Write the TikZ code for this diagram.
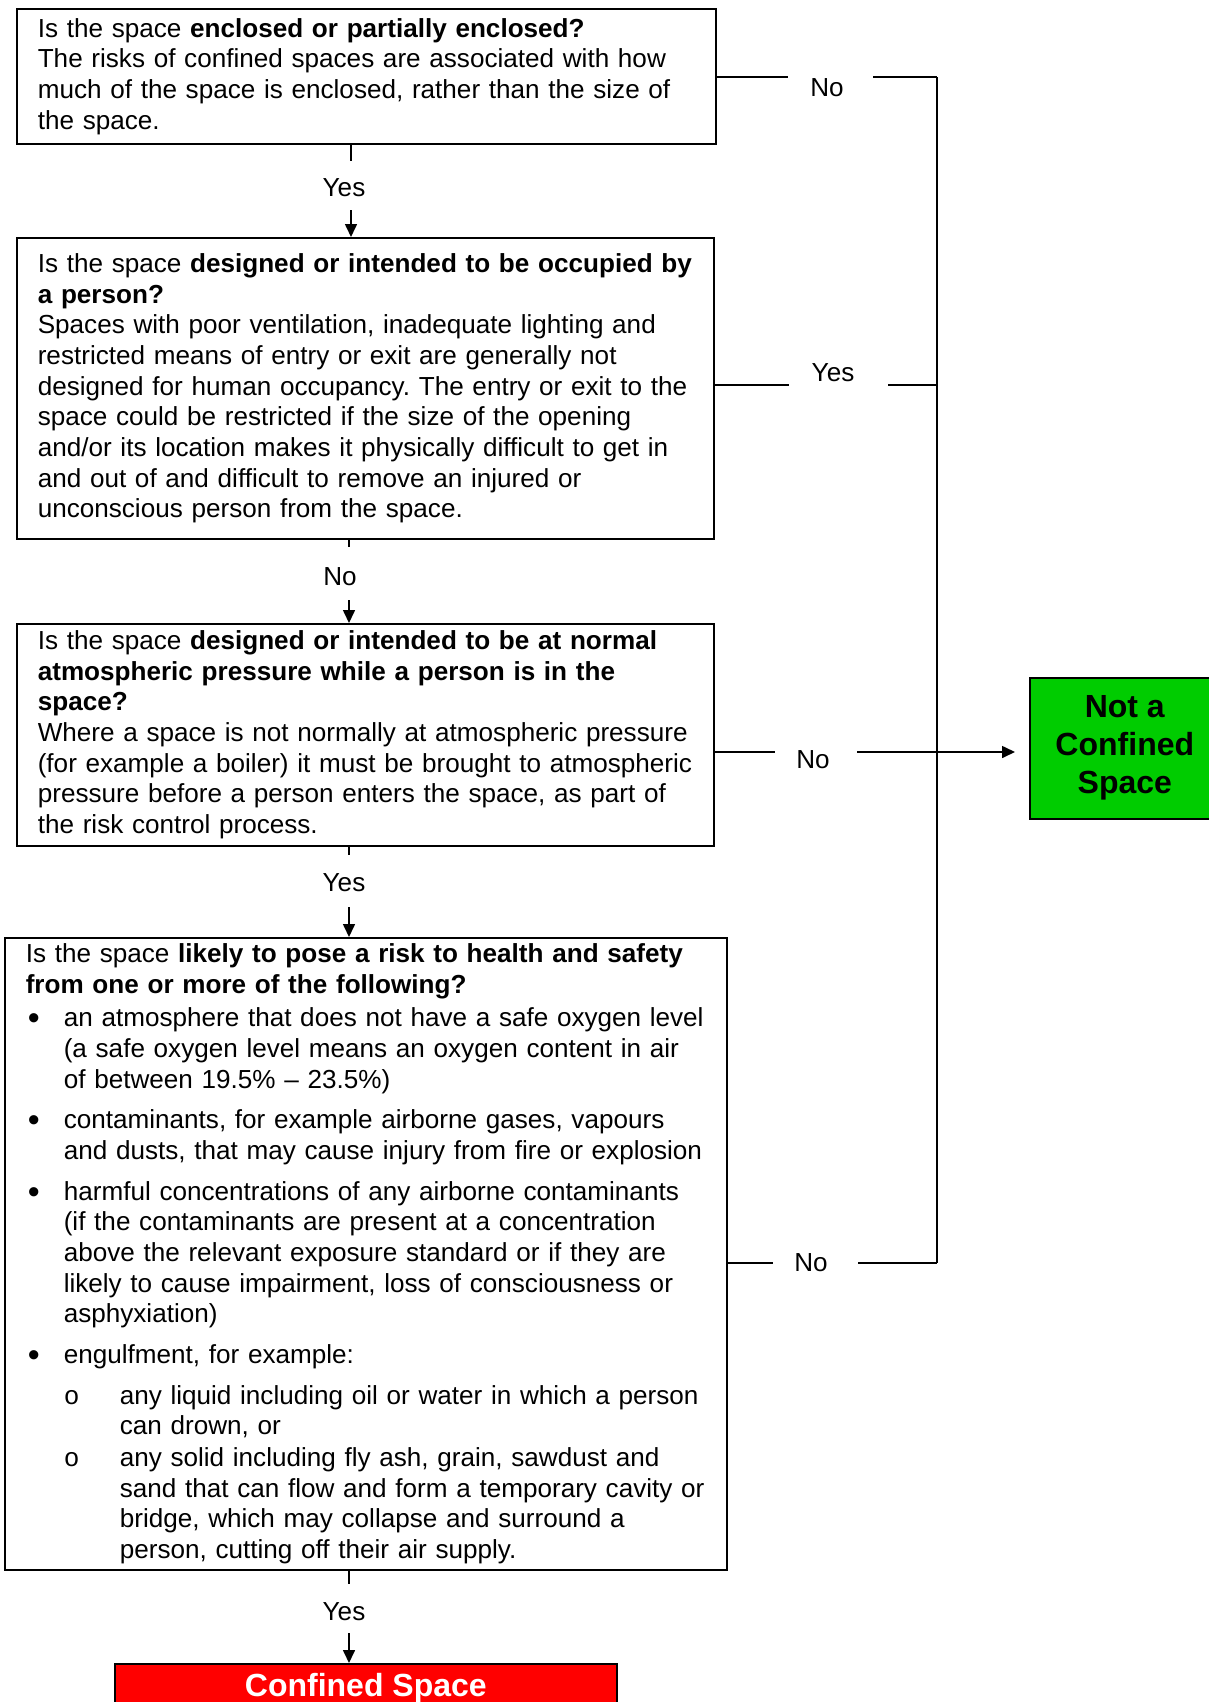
\documentclass[tikz,border=0pt]{standalone}
\usepackage{fontspec}
\setmainfont{Liberation Sans}
\newfontfamily\monofnt{Liberation Mono}
\usetikzlibrary{arrows.meta}

\definecolor{okgreen}{RGB}{0,204,0}
\definecolor{stopred}{RGB}{255,0,0}

\frenchspacing
\hyphenpenalty=10000
\exhyphenpenalty=10000

\newcommand{\nowrap}{\rightskip=0pt plus 1fil minus 40pt\relax}
\newcommand{\bpt}{\makebox[38pt][l]{\hspace{2pt}\raisebox{-3pt}{\fontsize{34pt}{30pt}\selectfont\textbullet}}}
\newcommand{\bcont}{\hspace*{38pt}}
\newcommand{\sbpt}{\hspace*{38pt}\makebox[56pt][l]{\monofnt o}}
\newcommand{\sbcont}{\hspace*{94pt}}

\tikzset{
  qbox/.style={draw, anchor=north west, inner xsep=21pt, inner ysep=0pt, align=left,
    font=\fontsize{26.1pt}{30.66pt}\selectfont},
  lab/.style={inner sep=0pt, font=\fontsize{26.1pt}{30.66pt}\selectfont},
  endbox/.style={draw, anchor=north west, inner sep=0pt, align=center,
    font=\bfseries\fontsize{32pt}{38pt}\selectfont},
}

\begin{document}
\begin{tikzpicture}[x=1pt,y=-1pt,line width=1.6pt,>={Triangle[length=13pt,width=12pt]}]
\useasboundingbox (0,0) rectangle (1209,1702);

% les questions
\node[qbox, text width=657pt, minimum height=135pt] (q1) at (16,8) {\nowrap Is the space \textbf{enclosed or partially enclosed?}\\
The risks of confined spaces are associated with how\\
much of the space is enclosed, rather than the size of\\
the space.};

\node[qbox, text width=655pt, minimum height=301pt] (q2) at (16,237) {\nowrap Is the space \textbf{designed or intended to be occupied by}\\
\textbf{a person?}\\
Spaces with poor ventilation, inadequate lighting and\\
restricted means of entry or exit are generally not\\
designed for human occupancy. The entry or exit to the\\
space could be restricted if the size of the opening\\
and/or its location makes it physically difficult to get in\\
and out of and difficult to remove an injured or\\
unconscious person from the space.};

\node[qbox, text width=655pt, minimum height=222pt] (q3) at (16,623) {\nowrap Is the space \textbf{designed or intended to be at normal}\\
\textbf{atmospheric pressure while a person is in the}\\
\textbf{space?}\\
Where a space is not normally at atmospheric pressure\\
(for example a boiler) it must be brought to atmospheric\\
pressure before a person enters the space, as part of\\
the risk control process.};

\node[qbox, text width=680pt, minimum height=632pt] (q4) at (4,937) {\nowrap Is the space \textbf{likely to pose a risk to health and safety}\\
\textbf{from one or more of the following?}\\[3pt]
\bpt an atmosphere that does not have a safe oxygen level\\
\bcont (a safe oxygen level means an oxygen content in air\\
\bcont of between 19.5\% -- 23.5\%)\\[10pt]
\bpt contaminants, for example airborne gases, vapours\\
\bcont and dusts, that may cause injury from fire or explosion\\[10pt]
\bpt harmful concentrations of any airborne contaminants\\
\bcont (if the contaminants are present at a concentration\\
\bcont above the relevant exposure standard or if they are\\
\bcont likely to cause impairment, loss of consciousness or\\
\bcont asphyxiation)\\[10pt]
\bpt engulfment, for example:\\[10pt]
\sbpt any liquid including oil or water in which a person\\
\sbcont can drown, or\\[1pt]
\sbpt any solid including fly ash, grain, sawdust and\\
\sbcont sand that can flow and form a temporary cavity or\\
\sbcont bridge, which may collapse and surround a\\
\sbcont person, cutting off their air supply.};

% les issues
\node[endbox, fill=okgreen, minimum width=190pt, minimum height=141pt] (notcs) at (1029,677) {Not a\\Confined\\Space};
\node[endbox, fill=stopred, text=white, minimum width=502pt, minimum height=48pt] (cs) at (114,1663) {Confined Space};

% colonne Yes/No du milieu
\node[lab] (y1) at (344,188) {Yes};
\coordinate (s1) at (351,161);
\coordinate (t1) at (351,210);
\draw (q1.south -| s1) -- (s1);
\draw[->] (t1) -- (q2.north -| t1);

\node[lab] (n2) at (340,577) {No};
\coordinate (s2) at (349,547);
\coordinate (t2) at (349,600);
\draw (q2.south -| s2) -- (s2);
\draw[->] (t2) -- (q3.north -| t2);

\node[lab] (y3) at (344,883) {Yes};
\coordinate (s3) at (349,855);
\coordinate (t3) at (349,907);
\draw (q3.south -| s3) -- (s3);
\draw[->] (t3) -- (q4.north -| t3);

\node[lab] (y4) at (344,1612) {Yes};
\coordinate (s4) at (349,1584);
\coordinate (t4) at (349,1633);
\draw (q4.south -| s4) -- (s4);
\draw[->] (t4) -- (cs.north -| t4);

% branches vers la droite
\coordinate (r1) at (937,77);
\coordinate (r4) at (937,1263);
\draw (r1) -- (r4);

\node[lab] (n1) at (827,88) {No};
\coordinate (a1) at (788,77);
\coordinate (b1) at (873,77);
\draw (q1.east |- a1) -- (a1);
\draw (b1) -- (r1);

\node[lab] (y2) at (833,373) {Yes};
\coordinate (a2) at (789,385);
\coordinate (b2) at (888,385);
\draw (q2.east |- a2) -- (a2);
\draw (b2) -- (b2 -| r1);

\node[lab] (n3) at (813,760) {No};
\coordinate (a3) at (775,752);
\coordinate (b3) at (857,752);
\draw (q3.east |- a3) -- (a3);
\draw[->, shorten >=14pt] (b3) -- (notcs.west |- b3);

\node[lab] (n4) at (811,1263) {No};
\coordinate (a4) at (773,1263);
\coordinate (b4) at (858,1263);
\draw (q4.east |- a4) -- (a4);
\draw (b4) -- (r4);
\end{tikzpicture}
\end{document}
